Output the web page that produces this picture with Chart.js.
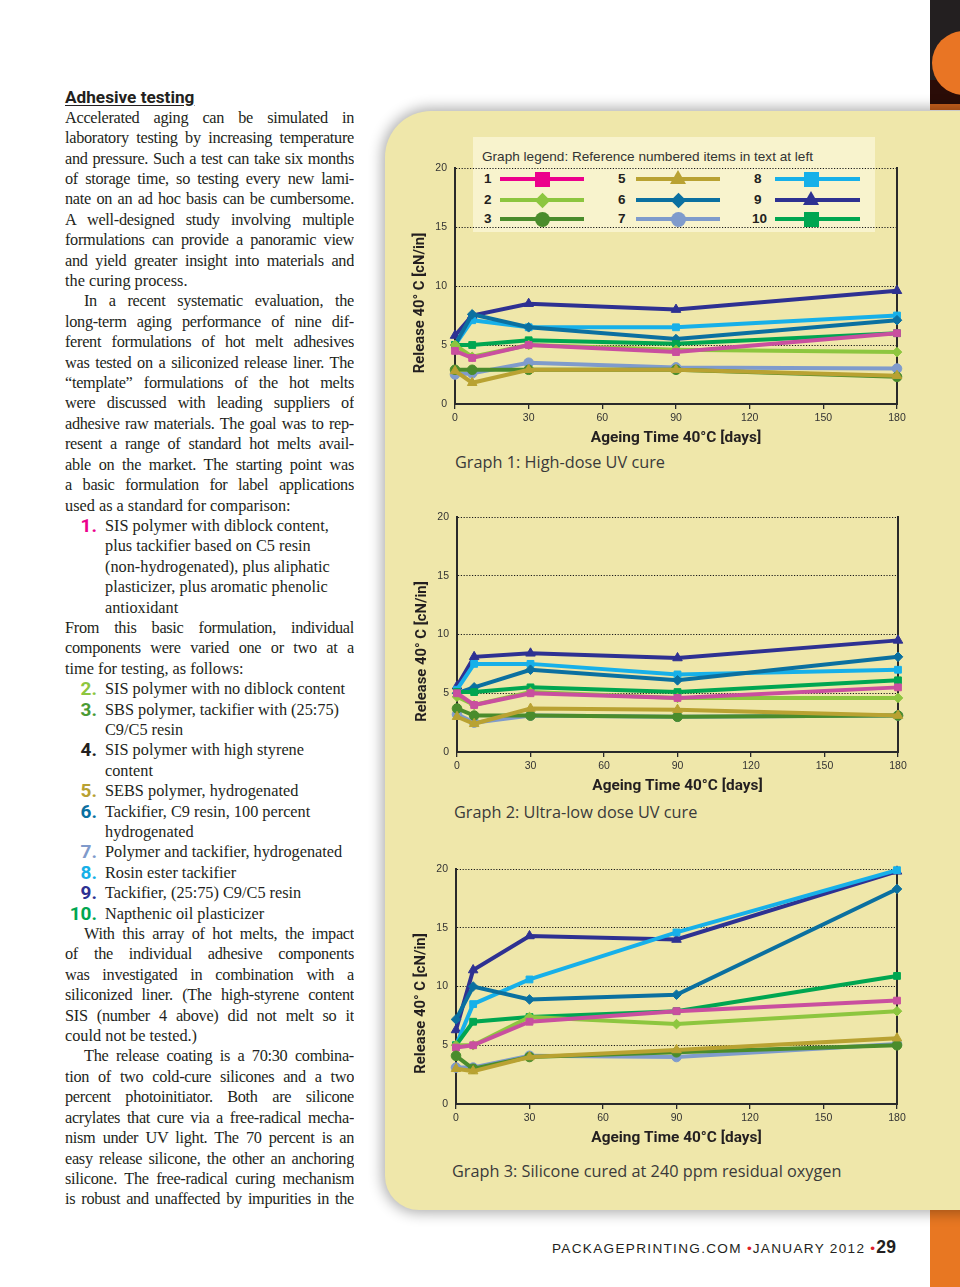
<!DOCTYPE html>
<html>
<head>
<meta charset="utf-8">
<script src="https://cdn.jsdelivr.net/npm/chart.js@4.4.1/dist/chart.umd.min.js"></script>
<style>
  html, body { margin: 0; padding: 0; }
  body { width: 960px; height: 1287px; position: relative; overflow: hidden; background: #fff; font-family: 'Liberation Serif', serif; color: #231f20; }
  #panel { position: absolute; left: 385px; top: 111px; width: 640px; height: 1099px; background: #efe7aa; border-radius: 46px 0 0 34px; box-shadow: 0 0 14px 3px rgba(0,0,0,0.32); }
  #topstrip { position: absolute; left: 930px; top: 0; width: 30px; height: 104px; background: #231f20; overflow: hidden; }
  #topstrip .dark { position: absolute; left: 0; top: 80px; width: 30px; height: 24px; background: #2a0c07; }
  #topstrip .circ { position: absolute; left: 2px; top: 31px; width: 64px; height: 64px; border-radius: 50%; background: #e97524; }
  #topline { position: absolute; left: 930px; top: 104px; width: 30px; height: 6px; background: #c9601c; }
  #botstrip { position: absolute; left: 930px; top: 1210px; width: 30px; height: 77px; background: #e87722; }
  #text { position: absolute; left: 65px; top: 107.8px; width: 289px; font-size: 16.3px; }
  #text div { height: 20.415px; line-height: 20.415px; position: relative; white-space: nowrap; }
  #text .j { text-align: justify; text-align-last: justify; white-space: normal; overflow: hidden; letter-spacing: -0.3px; }
  #text .ind { text-indent: 19px; }
  #text .li { padding-left: 40px; }
  #text .num { position: absolute; left: 0; width: 32px; text-align: right; font-family: Roboto, 'Liberation Sans', sans-serif; font-weight: bold; font-size: 19px; top: 0; }
  #heading { position: absolute; left: 65px; top: 86px; font-family: Roboto, 'Liberation Sans', sans-serif; font-weight: bold; font-size: 17.2px; text-decoration: underline; text-underline-offset: 2px; line-height: 22px; color: #231f20; }
  canvas { position: absolute; }
  #legend { position: absolute; left: 473px; top: 137px; width: 402px; height: 95px; background: rgba(250,246,214,0.8); }
  .ltitle { position: absolute; left: 482px; top: 148px; font-family: 'Liberation Sans', sans-serif; font-size: 13.6px; color: #333; line-height: 17px; white-space: nowrap; }
  .lnum { position: absolute; font-family: 'Liberation Sans', sans-serif; font-weight: bold; font-size: 13.5px; color: #231f20; line-height: 16px; }
  .lline { position: absolute; height: 4px; }
  .mk { position: absolute; }
  .sq { width: 15px; height: 15px; }
  .ci { width: 15px; height: 15px; border-radius: 50%; }
  .di { width: 11px; height: 11px; transform: rotate(45deg); }
  .tr { width: 0; height: 0; border-left: 8px solid transparent; border-right: 8px solid transparent; border-bottom-width: 14px; border-bottom-style: solid; }
  .cap { position: absolute; font-family: 'Open Sans', sans-serif; font-size: 16.3px; color: #3a3a3a; line-height: 20px; white-space: nowrap; }
  #footer { position: absolute; left: 552px; top: 1237px; font-family: 'Liberation Sans', sans-serif; font-size: 13.6px; letter-spacing: 1.3px; color: #231f20; white-space: nowrap; line-height: 20px; }
  #footer .dot { color: #e0202a; letter-spacing: 1px; }
  #footer .pg { font-weight: bold; font-size: 17.5px; letter-spacing: 0.3px; }
</style>
</head>
<body>
<div id="topstrip"><div class="dark"></div><div class="circ"></div></div>
<div id="topline"></div>
<div id="botstrip"></div>
<div id="panel"></div>

<div id="heading">Adhesive testing</div>
<div id="text">
  <div class="j">Accelerated aging can be simulated in</div>
  <div class="j">laboratory testing by increasing temperature</div>
  <div class="j">and pressure. Such a test can take six months</div>
  <div class="j">of storage time, so testing every new lami-</div>
  <div class="j">nate on an ad hoc basis can be cumbersome.</div>
  <div class="j">A well-designed study involving multiple</div>
  <div class="j">formulations can provide a panoramic view</div>
  <div class="j">and yield greater insight into materials and</div>
  <div>the curing process.</div>
  <div class="j ind">In a recent systematic evaluation, the</div>
  <div class="j">long-term aging performance of nine dif-</div>
  <div class="j">ferent formulations of hot melt adhesives</div>
  <div class="j">was tested on a siliconized release liner. The</div>
  <div class="j">“template” formulations of the hot melts</div>
  <div class="j">were discussed with leading suppliers of</div>
  <div class="j">adhesive raw materials. The goal was to rep-</div>
  <div class="j">resent a range of standard hot melts avail-</div>
  <div class="j">able on the market. The starting point was</div>
  <div class="j">a basic formulation for label applications</div>
  <div>used as a standard for comparison:</div>
  <div class="li"><span class="num" style="color:#ec008c">1.</span>SIS polymer with diblock content,</div>
  <div class="li">plus tackifier based on C5 resin</div>
  <div class="li">(non-hydrogenated), plus aliphatic</div>
  <div class="li">plasticizer, plus aromatic phenolic</div>
  <div class="li">antioxidant</div>
  <div class="j">From this basic formulation, individual</div>
  <div class="j">components were varied one or two at a</div>
  <div>time for testing, as follows:</div>
  <div class="li"><span class="num" style="color:#8dc63f">2.</span>SIS polymer with no diblock content</div>
  <div class="li"><span class="num" style="color:#4a9a34">3.</span>SBS polymer, tackifier with (25:75)</div>
  <div class="li">C9/C5 resin</div>
  <div class="li"><span class="num" style="color:#231f20">4.</span>SIS polymer with high styrene</div>
  <div class="li">content</div>
  <div class="li"><span class="num" style="color:#b8a132">5.</span>SEBS polymer, hydrogenated</div>
  <div class="li"><span class="num" style="color:#0a70a0">6.</span>Tackifier, C9 resin, 100 percent</div>
  <div class="li">hydrogenated</div>
  <div class="li"><span class="num" style="color:#7f9acb">7.</span>Polymer and tackifier, hydrogenated</div>
  <div class="li"><span class="num" style="color:#16b0e8">8.</span>Rosin ester tackifier</div>
  <div class="li"><span class="num" style="color:#2e3192">9.</span>Tackifier, (25:75) C9/C5 resin</div>
  <div class="li"><span class="num" style="color:#00a651">10.</span>Napthenic oil plasticizer</div>
  <div class="j ind">With this array of hot melts, the impact</div>
  <div class="j">of the individual adhesive components</div>
  <div class="j">was investigated in combination with a</div>
  <div class="j">siliconized liner. (The high-styrene content</div>
  <div class="j">SIS (number 4 above) did not melt so it</div>
  <div>could not be tested.)</div>
  <div class="j ind">The release coating is a 70:30 combina-</div>
  <div class="j">tion of two cold-cure silicones and a two</div>
  <div class="j">percent photoinitiator. Both are silicone</div>
  <div class="j">acrylates that cure via a free-radical mecha-</div>
  <div class="j">nism under UV light. The 70 percent is an</div>
  <div class="j">easy release silicone, the other an anchoring</div>
  <div class="j">silicone. The free-radical curing mechanism</div>
  <div class="j">is robust and unaffected by impurities in the</div>
</div>

<div id="legend"></div>
<div class="ltitle">Graph legend: Reference numbered items in text at left</div>
<div id="legendItems"></div>

<canvas id="c1"></canvas>
<canvas id="c2"></canvas>
<canvas id="c3"></canvas>

<div class="cap" style="left:455px; top:452px;">Graph 1: High-dose UV cure</div>
<div class="cap" style="left:454px; top:802px;">Graph 2: Ultra-low dose UV cure</div>
<div class="cap" style="left:452px; top:1161px;">Graph 3: Silicone cured at 240 ppm residual oxygen</div>

<div id="footer">PACKAGEPRINTING.COM <span class="dot">•</span>JANUARY 2012 <span class="dot">•</span><span class="pg">29</span></div>

<script>
// ---------- DATA ----------
const days = [0, 7, 30, 90, 180];
const xTickStep = 30;
const yTickStep = 5;
const seriesNames = ['1', '2', '3', '5', '6', '7', '8', '9', '10'];
const xTitle = 'Ageing Time 40°C [days]';
const yTitle = 'Release 40° C [cN/in]';

// Graph 1: High-dose UV cure
const g1_s1  = [4.5, 3.9, 5.0, 4.4, 6.0];
const g1_s2  = [5.0, 4.0, 5.0, 4.6, 4.4];
const g1_s3  = [2.9, 2.9, 2.9, 2.9, 2.3];
const g1_s5  = [2.8, 1.8, 2.9, 2.9, 2.4];
const g1_s6  = [5.0, 7.6, 6.5, 5.5, 7.1];
const g1_s7  = [2.5, 2.6, 3.5, 3.1, 3.0];
const g1_s8  = [5.0, 7.1, 6.5, 6.5, 7.5];
const g1_s9  = [5.8, 7.5, 8.5, 8.0, 9.6];
const g1_s10 = [5.0, 5.0, 5.4, 5.1, 6.0];

// Graph 2: Ultra-low dose UV cure
const g2_s1  = [5.0, 4.0, 5.0, 4.6, 5.5];
const g2_s2  = [4.7, 4.0, 5.1, 4.6, 4.6];
const g2_s3  = [3.7, 3.1, 3.1, 3.0, 3.1];
const g2_s5  = [3.0, 2.4, 3.7, 3.6, 3.1];
const g2_s6  = [5.0, 5.5, 7.0, 6.1, 8.1];
const g2_s7  = [3.2, 2.5, 3.1, 3.0, 3.1];
const g2_s8  = [5.3, 7.5, 7.5, 6.6, 7.0];
const g2_s9  = [5.6, 8.1, 8.4, 8.0, 9.5];
const g2_s10 = [5.1, 5.1, 5.5, 5.1, 6.1];

// Graph 3: Silicone cured at 240 ppm residual oxygen
const g3_s1  = [4.8, 5.0, 7.0, 7.9, 8.8];
const g3_s2  = [5.0, 5.0, 7.4, 6.8, 7.9];
const g3_s3  = [4.1, 3.0, 4.0, 4.4, 5.0];
const g3_s5  = [3.0, 2.8, 4.0, 4.6, 5.6];
const g3_s6  = [7.2, 10.0, 8.9, 9.3, 18.3];
const g3_s7  = [3.1, 3.1, 4.1, 4.0, 5.1];
const g3_s8  = [5.0, 8.5, 10.6, 14.6, 19.9];
const g3_s9  = [6.3, 11.4, 14.3, 14.0, 19.8];
const g3_s10 = [5.0, 7.0, 7.4, 7.9, 10.9];

// ---------- STYLES ----------
const STYLE = {
  '1':  { color: '#c94f9f', legend: '#ec008c', shape: 'rect' },
  '2':  { color: '#8dc63f', legend: '#8dc63f', shape: 'rectRot' },
  '3':  { color: '#4a8c2c', legend: '#4a8c2c', shape: 'circle' },
  '5':  { color: '#b9a232', legend: '#b9a232', shape: 'triangle' },
  '6':  { color: '#0b70a0', legend: '#0b70a0', shape: 'rectRot' },
  '7':  { color: '#7f9bcc', legend: '#7f9bcc', shape: 'circle' },
  '8':  { color: '#17b0e9', legend: '#17b0e9', shape: 'rect' },
  '9':  { color: '#2e3192', legend: '#2e3192', shape: 'triangle' },
  '10': { color: '#00a651', legend: '#00a651', shape: 'rect' }
};
const DRAW_ORDER = ['5', '3', '7', '1', '2', '10', '6', '8', '9'];

// ---------- LEGEND (HTML) ----------
(function () {
  const cols = [
    { num: 484, l: 500, r: 584, mk: 542 },
    { num: 618, l: 636, r: 720, mk: 678 },
    { num: 752, l: 775, r: 860, mk: 811 }
  ];
  const rows = [179, 200, 219];
  const layout = [['1', '2', '3'], ['5', '6', '7'], ['8', '9', '10']];
  const host = document.getElementById('legendItems');
  layout.forEach((col, ci) => {
    col.forEach((name, ri) => {
      const c = cols[ci], y = rows[ri], st = STYLE[name];
      const n = document.createElement('div');
      n.className = 'lnum'; n.textContent = name;
      n.style.left = (name === '8' || name === '9' ? c.num + 2 : c.num) + 'px';
      n.style.top = (y - 8) + 'px';
      host.appendChild(n);
      const ln = document.createElement('div');
      ln.className = 'lline';
      ln.style.left = c.l + 'px'; ln.style.width = (c.r - c.l) + 'px';
      ln.style.top = (y - 2) + 'px'; ln.style.background = st.legend;
      host.appendChild(ln);
      const m = document.createElement('div');
      m.className = 'mk';
      if (st.shape === 'rect') { m.classList.add('sq'); m.style.left = (c.mk - 7.5) + 'px'; m.style.top = (y - 7.5) + 'px'; m.style.background = st.legend; }
      else if (st.shape === 'circle') { m.classList.add('ci'); m.style.left = (c.mk - 7.5) + 'px'; m.style.top = (y - 7.5) + 'px'; m.style.background = st.legend; }
      else if (st.shape === 'rectRot') { m.classList.add('di'); m.style.left = (c.mk - 5.5) + 'px'; m.style.top = (y - 5.5) + 'px'; m.style.background = st.legend; }
      else { m.classList.add('tr'); m.style.left = (c.mk - 8) + 'px'; m.style.top = (y - 9) + 'px'; m.style.borderBottomColor = st.legend; }
      host.appendChild(m);
    });
  });
})();

// ---------- CHARTS ----------
Chart.defaults.font.family = "'Liberation Sans', sans-serif";
Chart.defaults.color = '#333';

function buildDatasets(g) {
  return DRAW_ORDER.map(name => {
    const st = STYLE[name];
    const vals = g[name];
    return {
      label: name,
      data: days.map((d, i) => ({ x: d, y: vals[i] })),
      borderColor: st.color,
      backgroundColor: st.color,
      borderWidth: 4,
      pointStyle: st.shape,
      pointRadius: st.shape === 'triangle' ? 5.5 : 4.8,
      pointBorderWidth: 1,
      pointBorderColor: st.color,
      tension: 0,
      clip: false
    };
  });
}

function makeChart(id, plot, g) {
  const Y_W = 55, PAD_T = 18, PAD_R = 23, X_H = 46;
  const left = plot.l - Y_W, top = plot.t - PAD_T;
  const w = plot.r + PAD_R - left, h = plot.b + X_H - top;
  const cv = document.getElementById(id);
  cv.style.left = left + 'px'; cv.style.top = top + 'px';
  cv.style.width = w + 'px'; cv.style.height = h + 'px';
  cv.width = w; cv.height = h;
  return new Chart(cv, {
    type: 'line',
    data: { datasets: buildDatasets(g) },
    options: {
      responsive: false,
      animation: false,
      events: [],
      layout: { padding: { left: 0, top: PAD_T, right: PAD_R, bottom: 0 } },
      plugins: { legend: { display: false }, tooltip: { enabled: false } },
      scales: {
        x: {
          type: 'linear', min: 0, max: 180,
          afterFit: s => { s.height = X_H; },
          ticks: { stepSize: xTickStep, autoSkip: false, maxRotation: 0, padding: 3, font: { size: 10.5 }, color: '#333' },
          grid: { drawOnChartArea: false, drawTicks: true, tickLength: 5, color: '#2a2a2a', lineWidth: 1.3 },
          border: { display: true, color: '#2a2a2a', width: 2 },
          title: { display: true, text: xTitle, font: { family: 'Roboto', weight: 'bold', size: 15.4 }, color: '#231f20', padding: { top: 0, bottom: 3 } }
        },
        y: {
          type: 'linear', min: 0, max: 20, position: 'left',
          afterFit: s => { s.width = Y_W; },
          ticks: { stepSize: yTickStep, padding: 8, font: { size: 10.5 }, color: '#333' },
          grid: { drawTicks: false, color: c => (c.tick && c.tick.value === 0) ? 'rgba(0,0,0,0)' : '#1a1a1a', lineWidth: 1 },
          border: { display: true, color: '#2a2a2a', width: 2, dash: [1.2, 1.6] },
          title: { display: true, text: yTitle + '\u2003\u2003 ', font: { family: 'Roboto', weight: 'bold', size: 14.8 }, color: '#231f20', padding: { top: 11, bottom: 0 } }
        },
        yr: {
          type: 'linear', min: 0, max: 20, position: 'right',
          afterFit: s => { s.width = 0; },
          ticks: { display: false },
          grid: { drawOnChartArea: false, drawTicks: false },
          border: { display: true, color: '#2a2a2a', width: 2 }
        }
      }
    }
  });
}

makeChart('c1', { l: 455, t: 168, r: 897, b: 404 },
  { '1': g1_s1, '2': g1_s2, '3': g1_s3, '5': g1_s5, '6': g1_s6, '7': g1_s7, '8': g1_s8, '9': g1_s9, '10': g1_s10 });
makeChart('c2', { l: 457, t: 517, r: 898, b: 752 },
  { '1': g2_s1, '2': g2_s2, '3': g2_s3, '5': g2_s5, '6': g2_s6, '7': g2_s7, '8': g2_s8, '9': g2_s9, '10': g2_s10 });
makeChart('c3', { l: 456, t: 869, r: 897, b: 1104 },
  { '1': g3_s1, '2': g3_s2, '3': g3_s3, '5': g3_s5, '6': g3_s6, '7': g3_s7, '8': g3_s8, '9': g3_s9, '10': g3_s10 });
</script>
</body>
</html>
